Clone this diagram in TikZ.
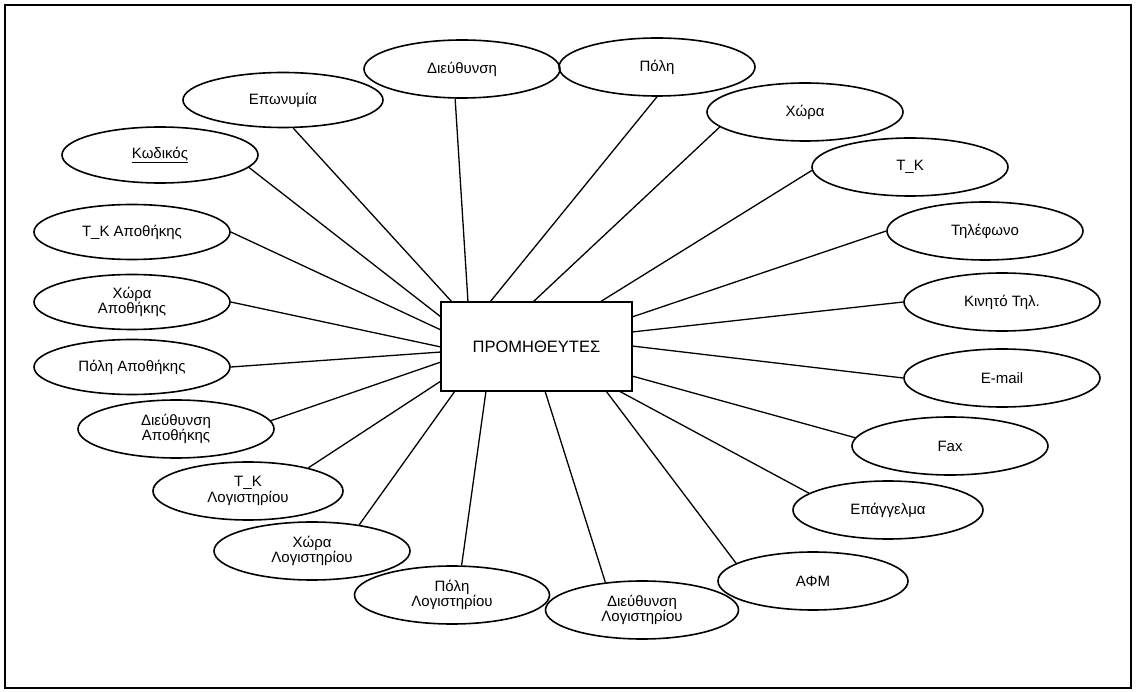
\documentclass[tikz,border=0pt]{standalone}
\usepackage{fontspec}
\setmainfont{Liberation Sans}
\usetikzlibrary{shapes.geometric}
\begin{document}
\begin{tikzpicture}[x=1pt,y=-1pt,
  attr/.style={draw, ellipse, line width=1.6pt, minimum width=196pt, minimum height=58pt, inner sep=0pt, align=center, font=\fontsize{15}{15.5}\selectfont},
  entity/.style={draw, rectangle, line width=1.8pt, minimum width=191pt, minimum height=89pt, inner sep=0pt, font=\fontsize{16.5}{18}\selectfont},
  link/.style={line width=1.3pt}]
\useasboundingbox (0,0) rectangle (1136,692);
\draw[line width=2pt] (5,5) rectangle (1131,688);

\node[entity] (ent) at (536.5,346.5) {ΠΡΟΜΗΘΕΥΤΕΣ};

\node[attr] (dieu) at (462,69) {Διεύθυνση};
\node[attr] (poli) at (657,67) {Πόλη};
\node[attr] (xora) at (805,112) {Χώρα};
\node[attr] (tk) at (910,167) {Τ\_Κ};
\node[attr] (til) at (985,231) {Τηλέφωνο};
\node[attr] (kin) at (1002,302) {Κινητό Τηλ.};
\node[attr] (mail) at (1002,378) {E-mail};
\node[attr] (fax) at (950,446) {Fax};
\node[attr, minimum width=190pt] (epag) at (888,510) {Επάγγελμα};
\node[attr, minimum width=190pt] (afm) at (813,581) {ΑΦΜ};
\node[attr, minimum width=193pt] (dieul) at (642,610) {Διεύθυνση\\Λογιστηρίου};
\node[attr, minimum width=195pt] (polil) at (452,595) {Πόλη\\Λογιστηρίου};
\node[attr] (xoral) at (312,551) {Χώρα\\Λογιστηρίου};
\node[attr, minimum width=190pt] (tkl) at (248,491) {Τ\_Κ\\Λογιστηρίου};
\node[attr] (dieua) at (176,429) {Διεύθυνση\\Αποθήκης};
\node[attr, minimum height=55pt] (polia) at (132,367) {Πόλη Αποθήκης};
\node[attr, minimum height=55pt] (xoraa) at (132,302) {Χώρα\\Αποθήκης};
\node[attr, minimum height=55pt] (tka) at (132,232) {Τ\_Κ Αποθήκης};
\node[attr, minimum height=56pt] (kod) at (160,155) {\underline{Κωδικός}};
\node[attr, minimum width=200pt, minimum height=55pt] (epon) at (283,100) {Επωνυμία};

\coordinate (cepon) at (452,302);
\coordinate (ckod) at (441,317);
\coordinate (ctka) at (441,330);
\coordinate (cxoraa) at (441,347);
\coordinate (cpolia) at (441,352);
\coordinate (cdieua) at (441,362);
\coordinate (ctkl) at (441,381);
\coordinate (cxoral) at (455,391);
\coordinate (cpolil) at (486,391);
\coordinate (cdieul) at (545,391);
\coordinate (cafm) at (606,391);
\coordinate (cepag) at (619,391);
\coordinate (cfax) at (632,376);
\coordinate (cmail) at (632,346);
\coordinate (ckin) at (632,332);
\coordinate (ctil) at (632,317);
\coordinate (ctk) at (600,302);
\coordinate (cxora) at (533,302);
\coordinate (cpoli) at (490,302);
\coordinate (cdieu) at (468,302);

\foreach \n/\a in {epon/290,kod/-8,tka/0,xoraa/0,polia/0,dieua/5,tkl/21,xoral/29,polil/72,dieul/143,afm/167,epag/168,fax/175,mail/180,kin/180,til/180,tk/182,xora/190,poli/270,dieu/257}
  \draw[link] (\n.\a) -- (c\n);
\end{tikzpicture}
\end{document}
